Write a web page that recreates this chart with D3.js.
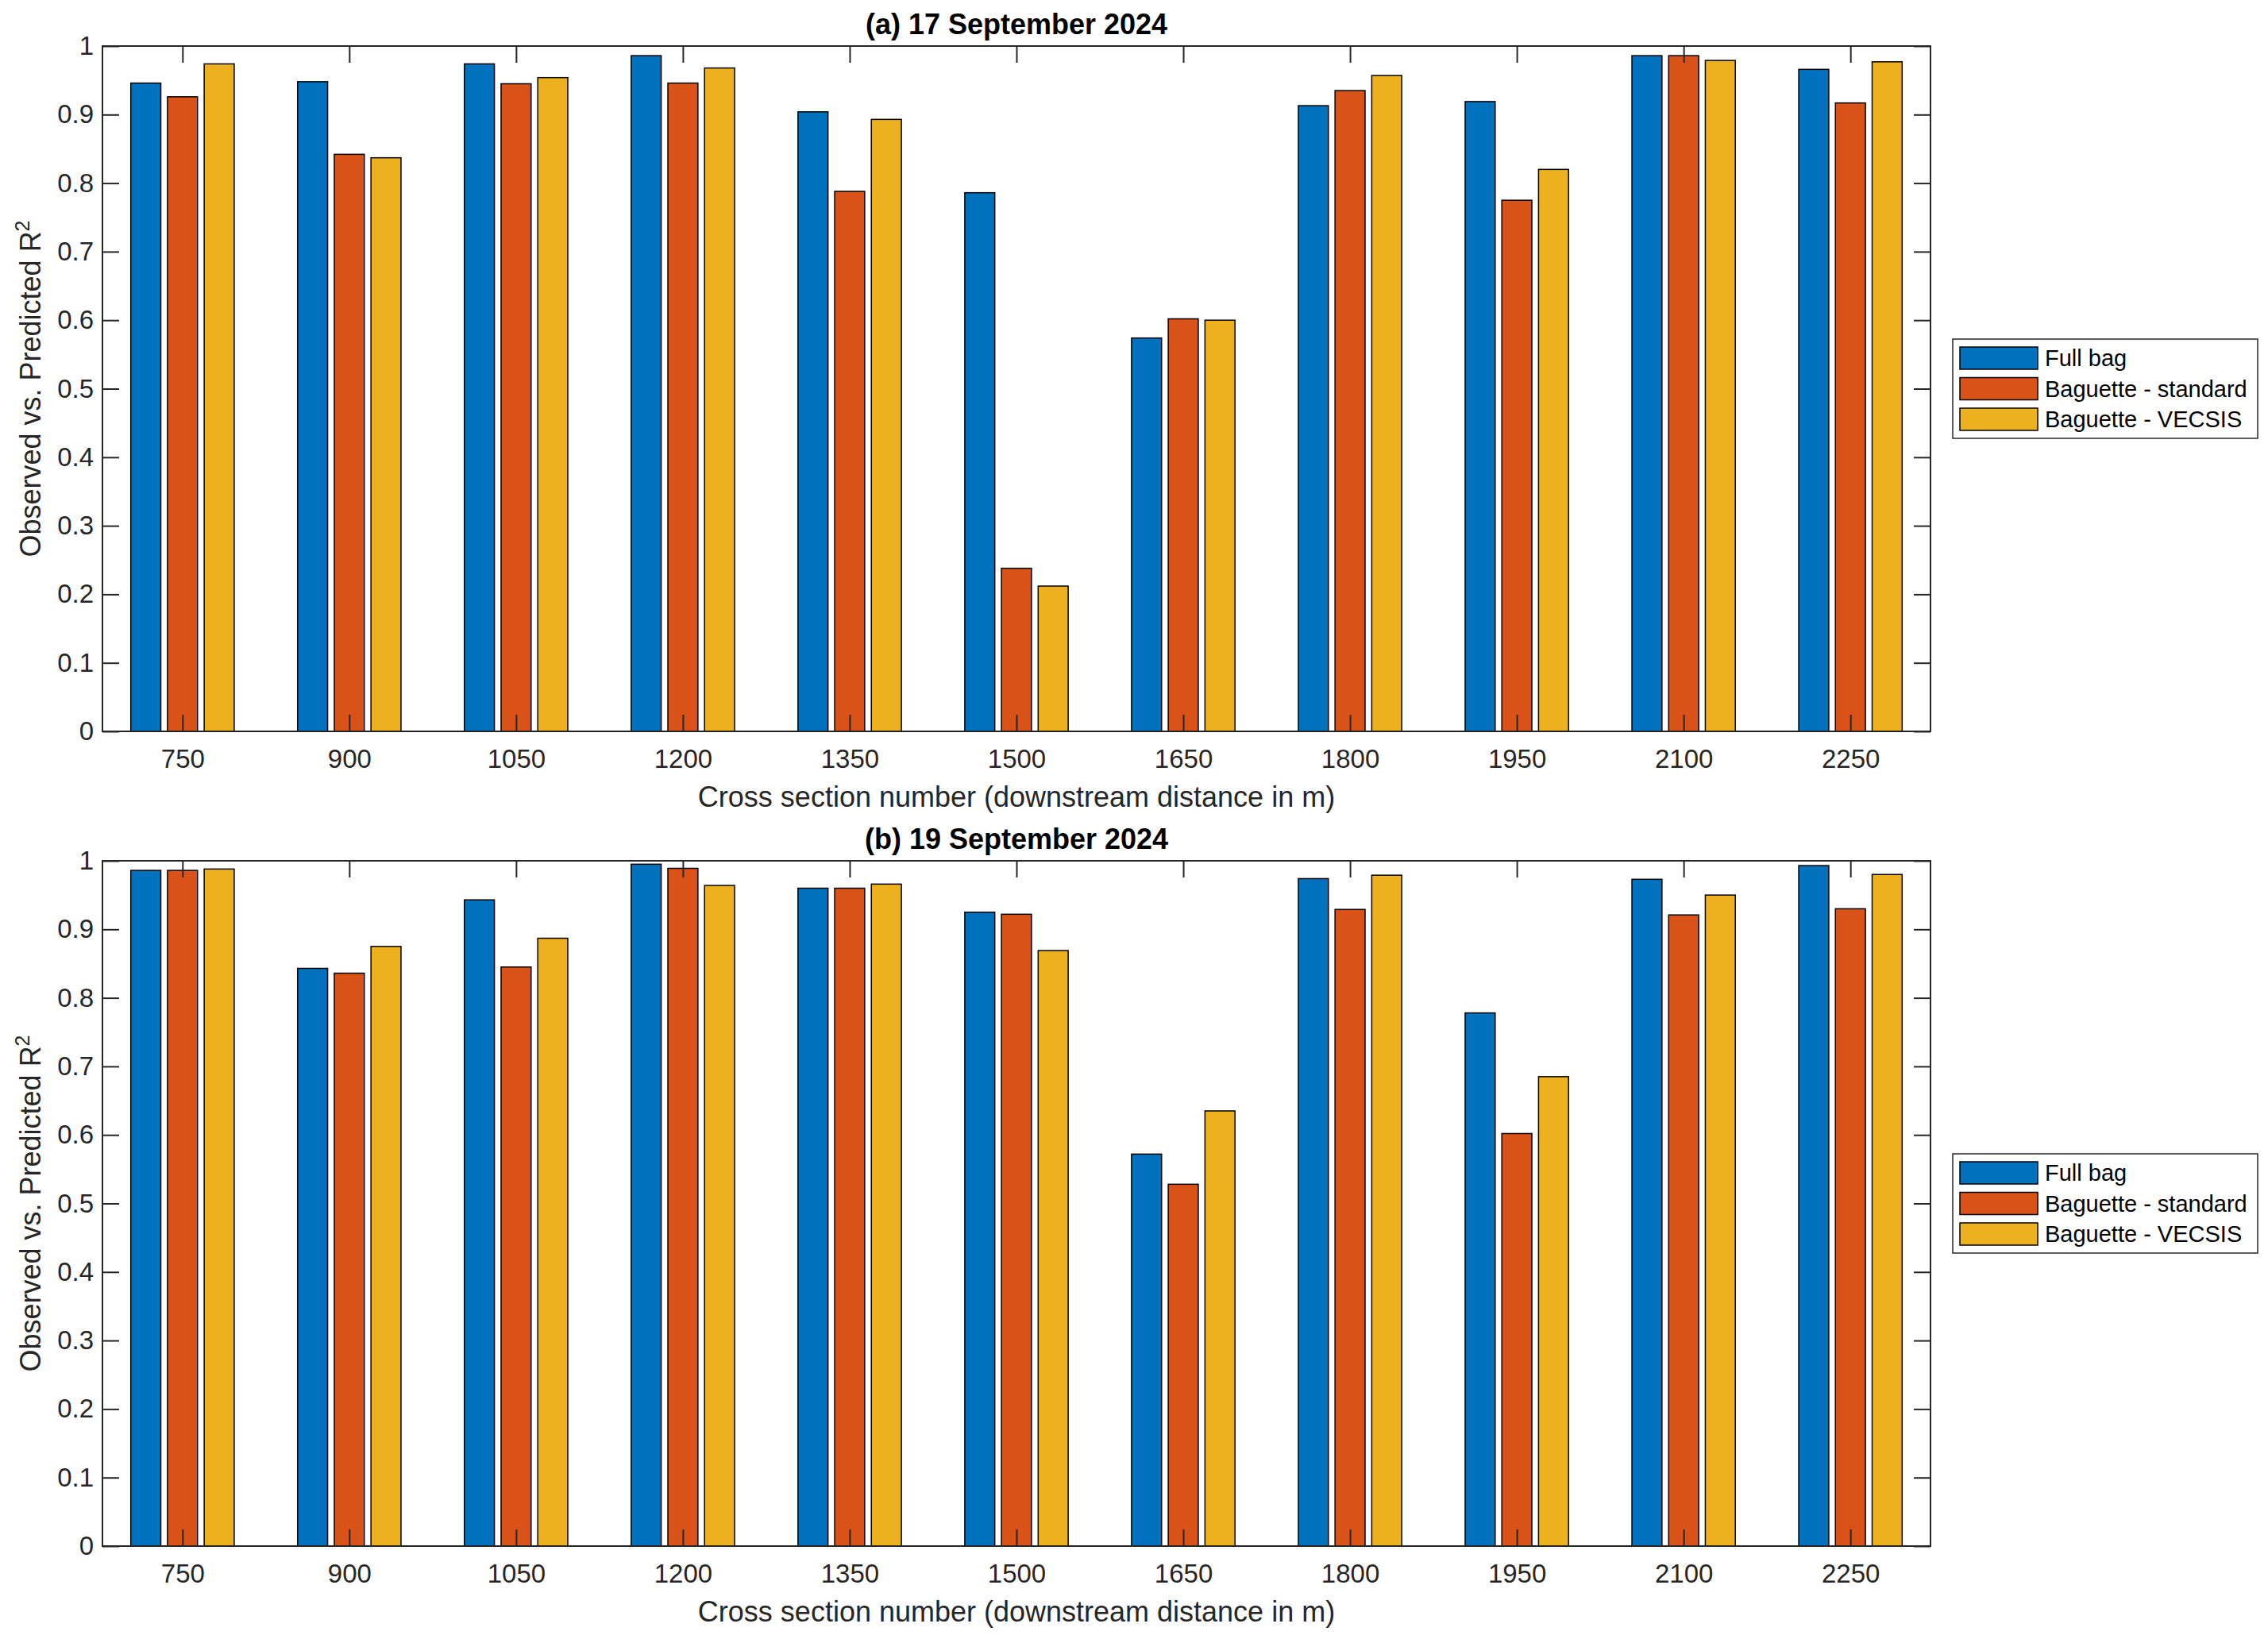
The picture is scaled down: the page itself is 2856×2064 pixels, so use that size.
<!DOCTYPE html>
<html>
<head>
<meta charset="utf-8">
<script src="https://cdn.jsdelivr.net/npm/d3@7"></script>
<style>
  body { margin: 0; background: #fff; }
  text { font-family: "Liberation Sans", Arial, sans-serif; }
</style>
</head>
<body>
<svg></svg>
<script>
// cross sections (downstream distance in m)
const sections = [750, 900, 1050, 1200, 1350, 1500, 1650, 1800, 1950, 2100, 2250];
const seriesNames = ["Full bag", "Baguette - standard", "Baguette - VECSIS"];
const colors = ["#0072BD", "#D95319", "#EDB120"];

// (a) 17 September 2024
const sep17Full = [0.946, 0.948, 0.974, 0.986, 0.904, 0.786, 0.574, 0.913, 0.919, 0.986, 0.966];
const sep17Std  = [0.926, 0.842, 0.945, 0.946, 0.788, 0.238, 0.602, 0.935, 0.775, 0.986, 0.917];
const sep17Vec  = [0.974, 0.837, 0.954, 0.968, 0.893, 0.212, 0.600, 0.957, 0.820, 0.979, 0.977];

// (b) 19 September 2024
const sep19Full = [0.986, 0.843, 0.943, 0.995, 0.960, 0.925, 0.572, 0.974, 0.778, 0.973, 0.993];
const sep19Std  = [0.986, 0.836, 0.845, 0.989, 0.960, 0.922, 0.528, 0.929, 0.602, 0.921, 0.930];
const sep19Vec  = [0.988, 0.875, 0.887, 0.964, 0.966, 0.869, 0.635, 0.979, 0.685, 0.950, 0.980];

const yTicks = [0, 0.1, 0.2, 0.3, 0.4, 0.5, 0.6, 0.7, 0.8, 0.9, 1];

const w = 2856;
const h = 2064;
const axisColor = "#262626";

const svg = d3.select("svg").attr("width", w).attr("height", h);
svg.append("rect").attr("width", w).attr("height", h).attr("fill", "#fff");

// plot area, shared by both panels
const left = 129, right = 2431, plotH = 863;

const xScale = d3.scaleLinear()
  .domain([sections[0] - 72, sections[sections.length - 1] + 72])
  .range([left, right]);

// offsets of the three bars inside a group, in data units
const offsets = [-33, 0, 33];
const barW = xScale(27) - xScale(0);

function drawPanel(top, title, series) {
  const yScale = d3.scaleLinear().domain([0, 1]).range([top + plotH, top]);
  const g = svg.append("g");

  // bars
  series.forEach((vals, s) => {
    g.append("g")
      .selectAll("rect")
      .data(vals)
      .enter()
      .append("rect")
      .attr("x", (d, i) => xScale(sections[i] + offsets[s]) - barW / 2)
      .attr("y", d => yScale(d))
      .attr("width", barW)
      .attr("height", d => yScale(0) - yScale(d))
      .attr("fill", colors[s])
      .attr("stroke", "#000")
      .attr("stroke-width", 1.5);
  });

  // axes with inward ticks on all four sides
  const bottomAx = g.append("g")
    .attr("transform", `translate(0, ${top + plotH})`)
    .call(d3.axisBottom(xScale).tickValues(sections).tickSizeInner(-21).tickSizeOuter(0).tickPadding(23)
      .tickFormat(d3.format("d")));
  const topAx = g.append("g")
    .attr("transform", `translate(0, ${top})`)
    .call(d3.axisTop(xScale).tickValues(sections).tickSizeInner(-21).tickSizeOuter(0).tickFormat(""));
  const leftAx = g.append("g")
    .attr("transform", `translate(${left}, 0)`)
    .call(d3.axisLeft(yScale).tickValues(yTicks).tickSizeInner(-21).tickSizeOuter(0).tickPadding(11)
      .tickFormat(d => d3.format("~g")(d)));
  const rightAx = g.append("g")
    .attr("transform", `translate(${right}, 0)`)
    .call(d3.axisRight(yScale).tickValues(yTicks).tickSizeInner(-21).tickSizeOuter(0).tickFormat(""));

  [bottomAx, topAx, leftAx, rightAx].forEach(ax => {
    ax.attr("font-family", null);
    ax.select(".domain").remove();
    ax.selectAll("line").attr("stroke", axisColor).attr("stroke-width", 2);
    ax.selectAll("text").attr("fill", axisColor).style("font-size", "33px")
      .style("font-family", "'Liberation Sans', Arial, sans-serif");
  });

  // box
  g.append("rect")
    .attr("x", left).attr("y", top)
    .attr("width", right - left).attr("height", plotH)
    .attr("fill", "none").attr("stroke", axisColor).attr("stroke-width", 2);

  // title
  g.append("text")
    .attr("x", (left + right) / 2)
    .attr("y", top - 15)
    .attr("text-anchor", "middle")
    .style("font-size", "36px").style("font-weight", "bold")
    .attr("fill", "#000")
    .text(title);

  // x label
  g.append("text")
    .attr("x", (left + right) / 2)
    .attr("y", top + plotH + 95)
    .attr("text-anchor", "middle")
    .style("font-size", "36px")
    .attr("fill", axisColor)
    .text("Cross section number (downstream distance in m)");

  // y label with superscript
  const yl = g.append("text")
    .attr("transform", `translate(51, ${top + plotH / 2}) rotate(-90)`)
    .attr("text-anchor", "middle")
    .style("font-size", "36px")
    .attr("fill", axisColor);
  yl.append("tspan").text("Observed vs. Predicted R");
  yl.append("tspan").attr("dy", -14).style("font-size", "25px").text("2");

  // legend
  const lx = 2459, ly = top + plotH / 2 - 62.5;
  const leg = g.append("g").attr("transform", `translate(${lx}, ${ly})`);
  leg.append("rect")
    .attr("width", 384).attr("height", 125)
    .attr("fill", "#fff").attr("stroke", axisColor).attr("stroke-width", 1.5);
  seriesNames.forEach((name, i) => {
    leg.append("rect")
      .attr("x", 9).attr("y", 10 + i * 38.5)
      .attr("width", 98).attr("height", 28)
      .attr("fill", colors[i]).attr("stroke", "#000").attr("stroke-width", 1.5);
    leg.append("text")
      .attr("x", 116).attr("y", 24 + i * 38.5)
      .attr("dy", "0.35em")
      .style("font-size", "29px")
      .attr("fill", "#000")
      .text(name);
  });
}

drawPanel(58, "(a) 17 September 2024", [sep17Full, sep17Std, sep17Vec]);
drawPanel(1084, "(b) 19 September 2024", [sep19Full, sep19Std, sep19Vec]);
</script>
</body>
</html>
